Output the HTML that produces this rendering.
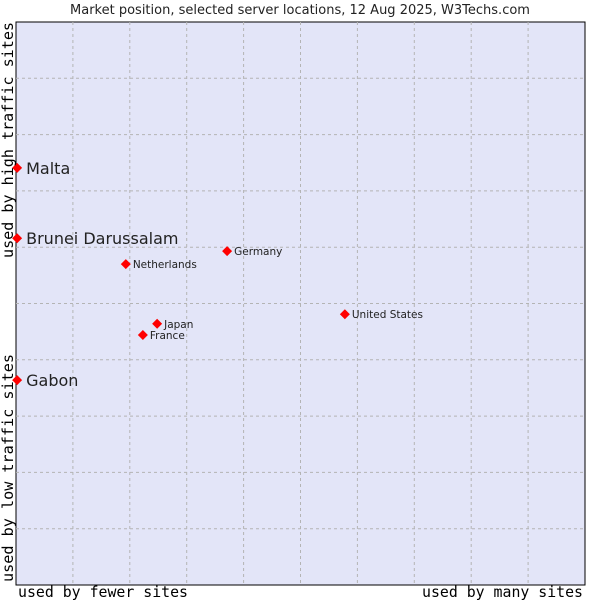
<!DOCTYPE html>
<html><head><meta charset="utf-8"><style>
body{margin:0;background:#fff;}
svg text{font-family:"DejaVu Sans","Liberation Sans",sans-serif;fill:#222;}
.mono{font-family:"DejaVu Sans Mono","Liberation Mono",monospace !important;fill:#000 !important;}
</style></head><body>
<svg id="chart" width="600" height="600" xmlns="http://www.w3.org/2000/svg">
<text x="300" y="14" text-anchor="middle" font-size="13">Market position, selected server locations, 12 Aug 2025, W3Techs.com</text>
<rect x="16" y="22" width="569" height="563" fill="#e3e5f8" stroke="#000" stroke-width="1"/>
<g id="grid"></g>
<g id="points"></g>
<text class="mono" x="18" y="597" font-size="15" textLength="170" lengthAdjust="spacingAndGlyphs">used by fewer sites</text>
<text class="mono" x="422" y="597" font-size="15" textLength="161" lengthAdjust="spacingAndGlyphs">used by many sites</text>
<text class="mono" transform="translate(13,582) rotate(-90)" font-size="15" textLength="228" lengthAdjust="spacingAndGlyphs">used by low traffic sites</text>
<text class="mono" transform="translate(13,258) rotate(-90)" font-size="15" textLength="236" lengthAdjust="spacingAndGlyphs">used by high traffic sites</text>
</svg>
<script>
const names = ["Malta","Brunei Darussalam","Gabon","Netherlands","Germany","Japan","France","United States"];
const xValues = [0.2,0.2,0.2,19.3,37.1,24.8,22.3,57.8];
const yValues = [74.1,61.6,36.4,57.0,59.3,46.4,44.4,48.1];
const bigLabel = [true,true,true,false,false,false,false,false];
const L=16,T=22,W=569,H=563;
function sx(v){return L+v/100*W;}
function sy(v){return T+H-v/100*H;}
const NS="http://www.w3.org/2000/svg";
const grid=document.getElementById('grid');
for(let i=1;i<10;i++){
  const v=document.createElementNS(NS,'line');
  v.setAttribute('x1',sx(i*10));v.setAttribute('x2',sx(i*10));v.setAttribute('y1',T);v.setAttribute('y2',T+H);
  v.setAttribute('stroke','#b4b4b4');v.setAttribute('stroke-dasharray','3,3');
  
  
  grid.appendChild(v);
  const h=document.createElementNS(NS,'line');
  h.setAttribute('y1',sy(i*10));h.setAttribute('y2',sy(i*10));h.setAttribute('x1',L);h.setAttribute('x2',L+W);
  h.setAttribute('stroke','#b4b4b4');h.setAttribute('stroke-dasharray','3,3');
  
  
  grid.appendChild(h);
}
const pts=document.getElementById('points');
names.forEach((n,i)=>{
  const x=sx(xValues[i]),y=sy(yValues[i]);
  const d=document.createElementNS(NS,'polygon');
  d.setAttribute('points',`${x},${y-5} ${x+5},${y} ${x},${y+5} ${x-5},${y}`);
  d.setAttribute('fill','#f00');
  
  
  pts.appendChild(d);
  const t=document.createElementNS(NS,'text');
  const big=bigLabel[i];
  t.setAttribute('x',x+(big?9:7));t.setAttribute('y',y+(big?6:4));
  t.setAttribute('font-size',big?16:10.5);
  t.textContent=n;
  
  
  pts.appendChild(t);
});
</script>
</body></html>
